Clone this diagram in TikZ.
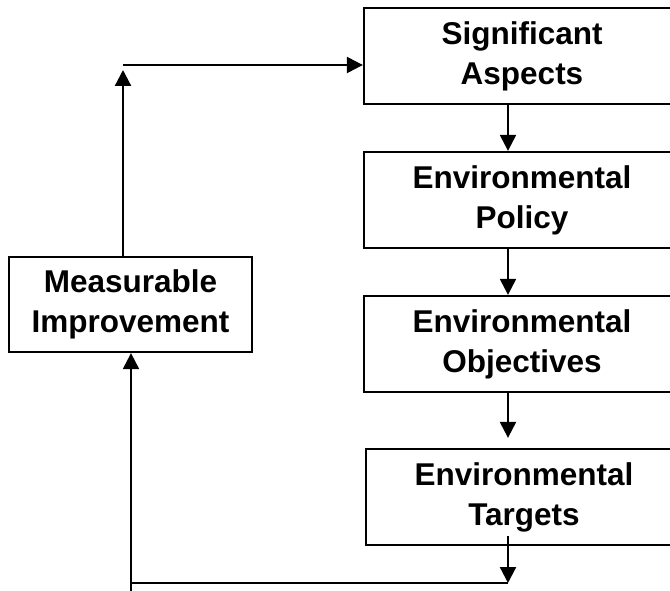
\documentclass[tikz,border=0pt]{standalone}
\usepackage{fontspec}
\setmainfont{Liberation Sans}
\usetikzlibrary{arrows.meta}
\begin{document}
\begin{tikzpicture}[x=1pt,y=-1pt,
  box/.style={draw, line width=2.3pt, minimum width=316pt, minimum height=96pt,
    inner sep=0pt, align=center, font=\fontsize{31.5}{40}\selectfont\bfseries,
    execute at begin node={\rule{0pt}{29pt}}},
  arr/.style={line width=2.3pt, -{Triangle[length=16pt,width=16pt]}},
  link/.style={line width=2.3pt}]
\clip (0,0) rectangle (670,591);
\fill[white] (0,0) rectangle (670,591);

% chain of steps on the right
\node[box] (SA) at (522,56)  {Significant\\Aspects};
\node[box] (EP) at (522,200) {Environmental\\Policy};
\node[box] (EO) at (522,344) {Environmental\\Objectives};
\node[box] (ET) at (524,497) {Environmental\\Targets};
% outcome box on the left
\node[box, minimum width=243pt, minimum height=95pt] (MI) at (130.5,304.5) {Measurable\\Improvement};

% helper points for the connectors
\coordinate (col)  at (508,0);
\coordinate (turn) at (508,583);
\coordinate (foot) at (131,591);
\coordinate (bend) at (131,583);
\coordinate (top)  at (123,65);

% downward flow
\draw[arr] (SA.south -| col) -- (EP.north -| col);
\draw[arr] (EP.south -| col) -- (EO.north -| col);
\draw[arr, shorten >=10pt] (EO.south -| col) -- (ET.north -| col);
\draw[arr] ([yshift=10pt]ET.south -| col) -- (turn);

% feedback loop
\draw[link] (turn) -- (bend);
\draw[arr] (foot) -- (MI.south -| foot);
\draw[arr, shorten >=5pt] (MI.north -| top) -- (top);
\draw[arr] (top) -- (SA.west |- top);
\end{tikzpicture}
\end{document}
